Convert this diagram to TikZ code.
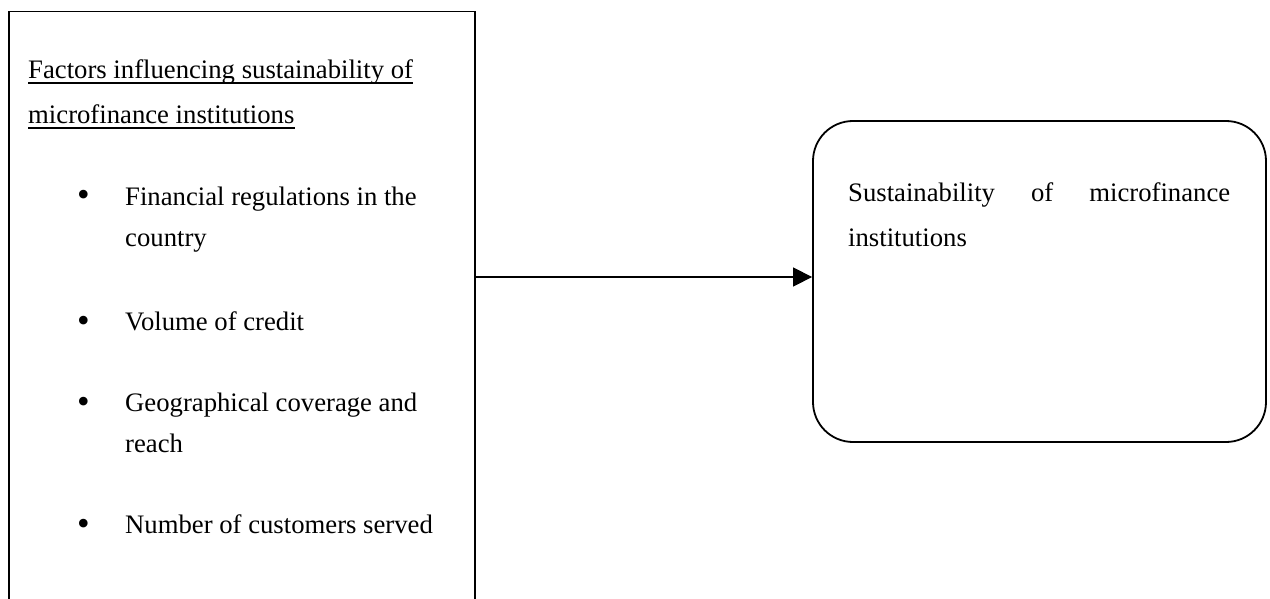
\documentclass[tikz,border=0pt]{standalone}
\usepackage{fontspec}
\setmainfont{Liberation Serif}
\usetikzlibrary{arrows.meta}
\begin{document}
\begin{tikzpicture}[x=1pt,y=-1pt,
  box/.style={draw, line width=1.8pt, inner sep=0pt},
  txt/.style={anchor=base west, inner sep=0pt, font=\fontsize{26.7}{41}\selectfont},
  bul/.style={anchor=base west, inner sep=0pt, font=\fontsize{36}{41}\selectfont},
  ul/.style={line width=1.2pt},
  conn/.style={line width=1.3pt, -{Triangle[length=19pt,width=19pt]}}]
\useasboundingbox (0,0) rectangle (1270,599);
\clip (0,0) rectangle (1270,599);
\fill[white] (0,0) rectangle (1270,599);
% boxes
\node[box, minimum width=466pt, minimum height=620pt] (left) at (242,321.5) {};
\node[box, rounded corners=40pt, minimum width=453pt, minimum height=321pt] (right) at (1039.5,281.5) {};
% left texts
\node[txt] (t1) at (28,79) {Factors influencing sustainability of};
\node[txt] (t2) at (28,124) {microfinance institutions};
\draw[ul] ([yshift=-4pt]t1.base west) -- ([yshift=-4pt]t1.base east);
\draw[ul] ([yshift=-4pt]t2.base west) -- ([yshift=-4pt]t2.base east);
\node[bul] (b1) at (77,207) {•};
\node[txt] (i1) at (125,205) {Financial regulations in the};
\node[txt] (i1b) at (125,246) {country};
\node[bul] (b2) at (77,332) {•};
\node[txt] (i2) at (125,330) {Volume of credit};
\node[bul] (b3) at (77,413) {•};
\node[txt] (i3) at (125,411) {Geographical coverage and};
\node[txt] (i3b) at (125,452) {reach};
\node[bul] (b4) at (77,535) {•};
\node[txt] (i4) at (125,533) {Number of customers served};
% right texts
\node[txt] (r1) at (848,202) {\makebox[382pt][s]{Sustainability of microfinance}};
\node[txt] (r2) at (848,246) {institutions};
% connector
\path (right.west) ++(0,-4.5) coordinate (ah);
\draw[conn] (left.east |- ah) -- (ah);
\end{tikzpicture}
\end{document}
